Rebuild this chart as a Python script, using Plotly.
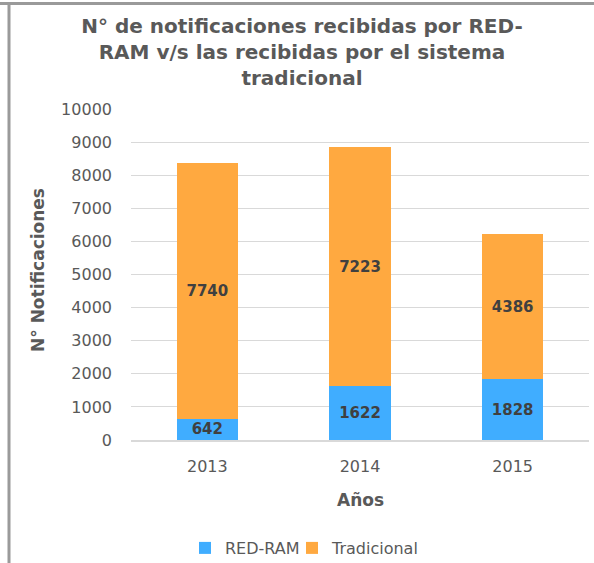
import plotly.graph_objects as go

years = ["2013", "2014", "2015"]
red_ram = [642, 1622, 1828]
tradicional = [7740, 7223, 4386]
y_ticks = [0, 1000, 2000, 3000, 4000, 5000, 6000, 7000, 8000, 9000, 10000]

BLUE = "#40ADFF"
ORANGE = "#FFA940"
FONT = "DejaVu Sans, Verdana, sans-serif"
TXT = "#595959"

label_font = dict(family=FONT, size=15, color="#404040", weight="bold")

fig = go.Figure()
fig.add_trace(go.Bar(
    x=years, y=red_ram, name="RED-RAM", marker=dict(color=BLUE, line=dict(width=0)),
    text=[str(v) for v in red_ram], textposition="inside", insidetextanchor="middle",
    textfont=label_font, constraintext="none", legend="legend",
))
fig.add_trace(go.Bar(
    x=years, y=tradicional, name="Tradicional", marker=dict(color=ORANGE, line=dict(width=0)),
    text=[str(v) for v in tradicional], textposition="inside", insidetextanchor="middle",
    textfont=label_font, constraintext="none", legend="legend2",
))

L, R, T, B = 131, 5, 109, 123
W, H = 594, 563
pw, ph = W - L - R, H - T - B

def px(x):
    return (x - L) / pw

def py(y):
    return (H - B - y) / ph

legend_common = dict(orientation="h", xanchor="left", y=py(548), yanchor="middle",
                     font=dict(size=16, color=TXT), itemwidth=30,
                     bgcolor="rgba(0,0,0,0)")

fig.update_layout(
    width=W, height=H,
    barmode="stack", bargap=0.6,
    paper_bgcolor="white", plot_bgcolor="white",
    margin=dict(l=L, r=R, t=T, b=B, autoexpand=False),
    font=dict(family=FONT, color=TXT),
    title=dict(
        text="N° de notificaciones recibidas por RED-<br>RAM v/s las recibidas por el sistema<br>tradicional",
        x=px(302), xanchor="center", xref="paper", y=1 - 33 / H, yanchor="middle", yref="container",
        font=dict(family=FONT, size=20, color=TXT, weight="bold"),
    ),
    xaxis=dict(
        showgrid=False, showline=True, linecolor="#d9d9d9", linewidth=1.5,
        tickfont=dict(size=16, color=TXT), ticks="", automargin=False,
        ticklabelstandoff=11,
    ),
    yaxis=dict(
        range=[0, 10000], tickvals=y_ticks, ticktext=[str(v) for v in y_ticks],
        showgrid=True, gridcolor="#d9d9d9", gridwidth=1,
        zeroline=False, showline=False, ticks="", automargin=False,
        tickfont=dict(size=16, color=TXT), ticklabelstandoff=18,
    ),
    annotations=[
        dict(text="Años", xref="paper", yref="paper", x=px(360), y=py(500),
             xanchor="center", yanchor="middle", showarrow=False,
             font=dict(size=17, color=TXT, weight="bold")),
        dict(text="N° Notificaciones", xref="paper", yref="paper", x=px(38), y=py(270),
             xanchor="center", yanchor="middle", showarrow=False, textangle=-90,
             font=dict(size=17, color=TXT, weight="bold")),
    ],
    legend=dict(x=px(185), **legend_common),
    legend2=dict(x=px(292), **legend_common),
    showlegend=True,
    shapes=[
        dict(type="line", xref="paper", yref="paper", x0=px(0), x1=px(W), y0=py(3.5), y1=py(3.5),
             line=dict(color="#9a9a9a", width=3), layer="above"),
        dict(type="line", xref="paper", yref="paper", x0=px(9), x1=px(9), y0=py(2), y1=py(H),
             line=dict(color="#9a9a9a", width=3), layer="above"),
    ],
)

fig.write_html("out.html", config={"displayModeBar": False},
               post_script="document.body.style.margin='0';")
